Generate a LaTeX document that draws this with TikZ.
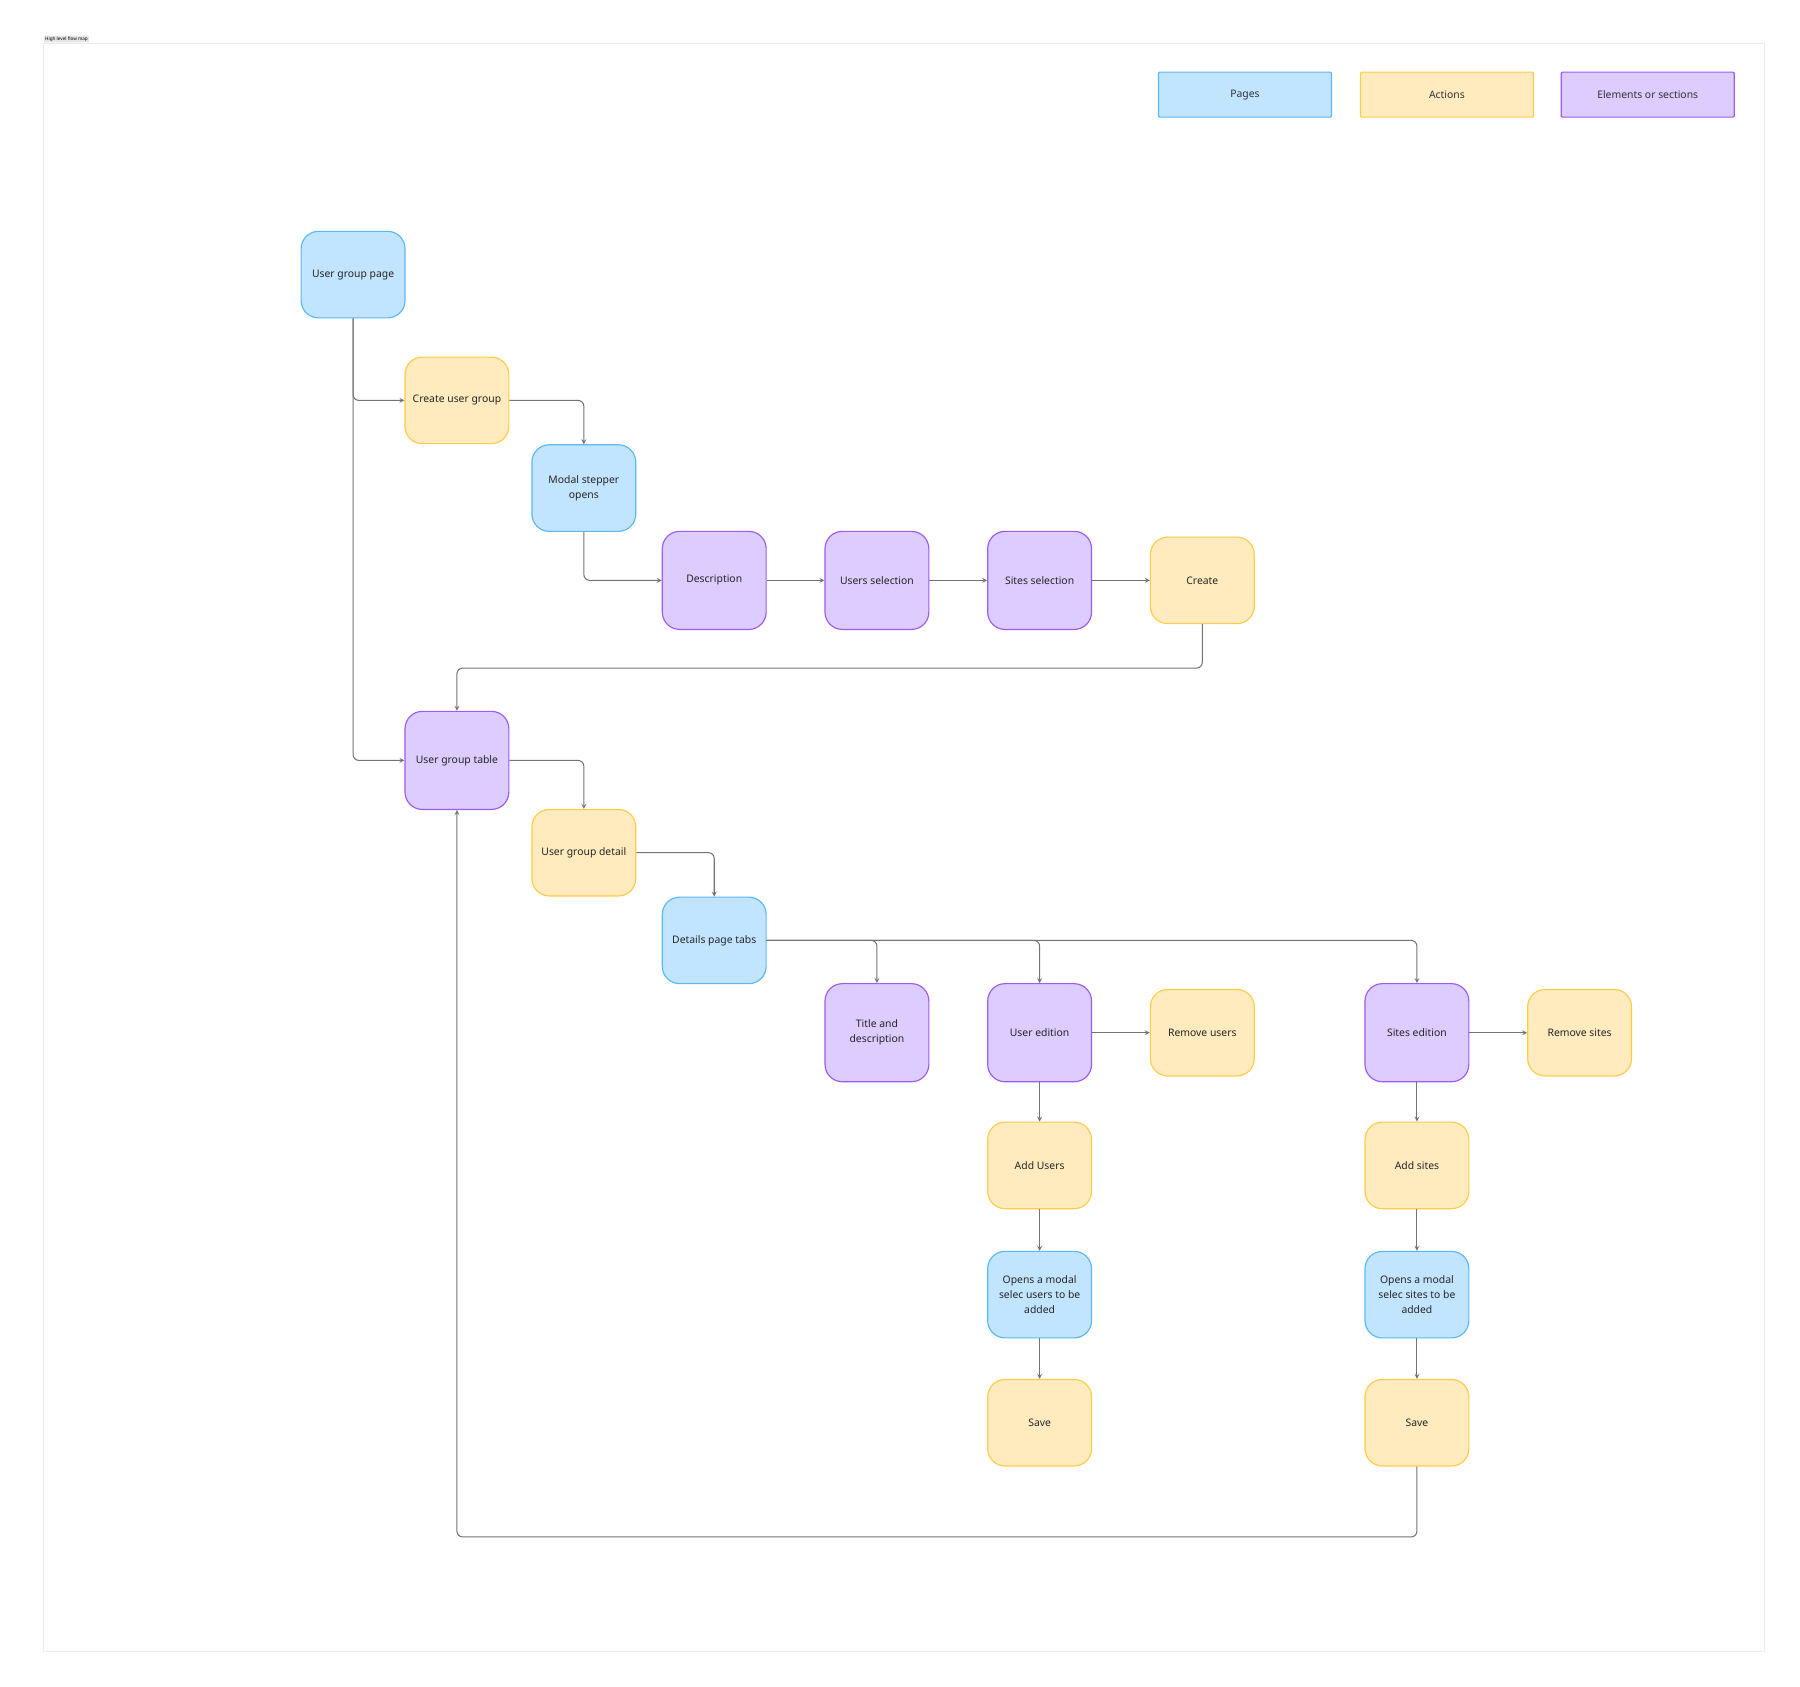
\documentclass[tikz,border=0pt]{standalone}
\usepackage{fontspec}
\setmainfont{Noto Sans}
\begin{document}
\begin{tikzpicture}[x=1pt,y=-1pt,
  base/.style={draw,line width=1pt,rounded corners=15pt,minimum width=90pt,align=center,font=\fontsize{9}{13}\selectfont\bfseries,text=black!85,inner sep=2pt},
  pg/.style={base,fill=pgf,draw=pgd,minimum height=75pt},
  ac/.style={base,fill=acf,draw=acd,minimum height=75pt},
  el/.style={base,fill=elf,draw=eld,minimum height=85pt},
  leg/.style={draw,line width=1pt,rounded corners=1pt,minimum width=150pt,minimum height=39pt,font=\fontsize{9}{11}\selectfont,text=black!80},
  ar/.style={draw=black!55,line width=0.9pt,->,>=stealth,rounded corners=5pt}]
\definecolor{pgf}{HTML}{C2E5FF}\definecolor{pgd}{HTML}{5BB8F5}
\definecolor{acf}{HTML}{FFEBBE}\definecolor{acd}{HTML}{FFCC4A}
\definecolor{elf}{HTML}{DCCCFF}\definecolor{eld}{HTML}{9D5BF0}
\useasboundingbox (0,0) rectangle (1560,1462);
\draw[black!8,line width=0.7pt] (38,38) rectangle (1529,1431);
\node[fill=black!10,rounded corners=1pt,font=\fontsize{4}{4}\selectfont,inner sep=1pt,anchor=south west] (lbl) at (38,37) {High level flow map};
\node[leg,fill=pgf,draw=pgd] (lp) at (1079,82) {Pages};
\node[leg,fill=acf,draw=acd] (la) at (1254,82) {Actions};
\node[leg,fill=elf,draw=eld] (le) at (1428,82) {Elements or sections};
\node[pg] (ugp) at (306,238) {User group page};
\node[ac] (cug) at (396,347) {Create user group};
\node[pg] (msp) at (506,423) {Modal stepper\\opens};
\node[el] (des) at (619,503) {Description};
\node[el] (uss) at (760,503) {Users selection};
\node[el] (sis) at (901,503) {Sites selection};
\node[ac] (cre) at (1042,503) {Create};
\node[el] (ugt) at (396,659) {User group table};
\node[ac] (ugd) at (506,739) {User group detail};
\node[pg] (dpt) at (619,815) {Details page tabs};
\node[el] (tad) at (760,895) {Title and\\description};
\node[el] (ued) at (901,895) {User edition};
\node[ac] (rmu) at (1042,895) {Remove users};
\node[el] (sed) at (1228,895) {Sites edition};
\node[ac] (rms) at (1369,895) {Remove sites};
\node[ac] (adu) at (901,1010) {Add Users};
\node[pg] (omu) at (901,1122) {Opens a modal\\selec users to be\\added};
\node[ac] (svu) at (901,1233) {Save};
\node[ac] (ads) at (1228,1010) {Add sites};
\node[pg] (oms) at (1228,1122) {Opens a modal\\selec sites to be\\added};
\node[ac] (svs) at (1228,1233) {Save};
\draw[ar] (ugp.south) |- (cug.west);
\draw[ar] (ugp.south) |- (ugt.west);
\draw[ar] (cug.east) -| (msp.north);
\draw[ar] (msp.south) |- (des.west);
\draw[ar] (des) -- (uss);
\draw[ar] (uss) -- (sis);
\draw[ar] (sis) -- (cre);
\draw[ar] (cre.south) -- ++(0,38) -| (ugt.north);
\draw[ar] (ugt.east) -| (ugd.north);
\draw[ar] (ugd.east) -| (dpt.north);
\draw[ar] (dpt.east) -| (tad.north);
\draw[ar] (dpt.east) -| (ued.north);
\draw[ar] (dpt.east) -| (sed.north);
\draw[ar] (ued) -- (rmu);
\draw[ar] (sed) -- (rms);
\draw[ar] (ued) -- (adu);
\draw[ar] (adu) -- (omu);
\draw[ar] (omu) -- (svu);
\draw[ar] (sed) -- (ads);
\draw[ar] (ads) -- (oms);
\draw[ar] (oms) -- (svs);
\draw[ar] (svs.south) -- ++(0,61) -| (ugt.south);
\end{tikzpicture}
\end{document}
